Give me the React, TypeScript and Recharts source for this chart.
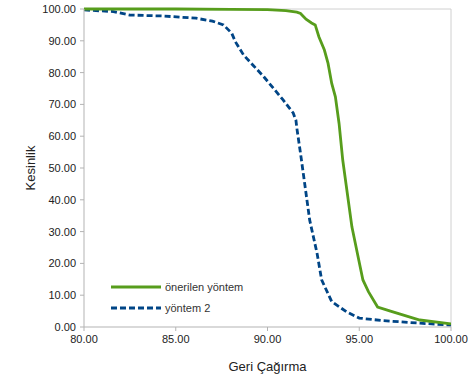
import { LineChart, Line, XAxis, YAxis, Legend, ReferenceLine, Label } from "recharts";

// önerilen yöntem (solid green)
const proposedRecall = [80, 85, 88, 90, 91, 91.6, 91.8, 92.1, 92.4, 92.6, 92.8, 93.1, 93.3, 93.5, 93.7, 93.9, 94.1, 94.3, 94.6, 94.9, 95.2, 95.5, 96.0, 96.7, 98.3, 100];
const proposedPrecision = [100, 100, 99.9, 99.8, 99.5, 99, 98.6, 96.8, 95.6, 95, 91.3, 87.1, 82.9, 76.6, 72.4, 64, 52.5, 44.1, 31.5, 23.1, 14.8, 11.1, 6.3, 5, 2.2, 1.0];

// yöntem 2 (dashed blue)
const method2Recall = [80, 81.6, 82.5, 84.3, 86.1, 87.0, 87.6, 88.05, 88.25, 88.7, 89.2, 89.8, 90.85, 91.4, 91.55, 91.6, 91.8, 92.05, 92.3, 92.7, 92.95, 93.5, 94.3, 95.0, 96.3, 98.3, 100];
const method2Precision = [99.7, 99.2, 98.1, 97.8, 97.1, 96.2, 95, 92.4, 89.7, 85.5, 82.4, 78.7, 71.4, 67.3, 65, 62.5, 54.6, 44.1, 33.6, 23.2, 14.8, 8.0, 4.8, 2.8, 2.0, 1.2, 0.6];

const xTicks = [80, 85, 90, 95, 100];
const yTicks = [0, 10, 20, 30, 40, 50, 60, 70, 80, 90, 100];

const GREEN = "#579d1c";
const BLUE = "#004586";
const AXIS = "#b3b3b3";

const proposedData = proposedRecall.map((r, i) => ({ recall: r, precision: proposedPrecision[i] }));
const method2Data = method2Recall.map((r, i) => ({ recall: r, precision: method2Precision[i] }));

const series = [
  { name: "önerilen yöntem", color: GREEN, dash: undefined as string | undefined },
  { name: "yöntem 2", color: BLUE, dash: "6 3" },
];

function LegendBox() {
  return (
    <div style={{ fontSize: 11, color: "#333" }}>
      {series.map((s) => (
        <div key={s.name} style={{ display: "flex", alignItems: "center", height: 21 }}>
          <svg width={52} height={6}>
            <line x1={0} y1={3} x2={50} y2={3} stroke={s.color} strokeWidth={2.8} strokeDasharray={s.dash} />
          </svg>
          <span style={{ marginLeft: 2 }}>{s.name}</span>
        </div>
      ))}
    </div>
  );
}

export default function App() {
  return (
    <div style={{ position: "absolute", left: 0, top: 0, fontFamily: "'Liberation Sans', Arial, sans-serif" }}>
      <LineChart width={468} height={382} margin={{ top: 9, right: 17, left: 0, bottom: 0 }}>
        <XAxis
          type="number"
          dataKey="recall"
          domain={[80, 100]}
          ticks={xTicks}
          tickFormatter={(v: number) => v.toFixed(2)}
          allowDataOverflow
          height={55}
          tickSize={4}
          tickMargin={4}
          stroke={AXIS}
          tick={{ fill: "#222", fontSize: 11 }}
          interval={0}
        >
          <Label value="Geri Çağırma" position="center" dy={12} style={{ fill: "#222", fontSize: 13 }} />
        </XAxis>
        <YAxis
          type="number"
          domain={[0, 100]}
          ticks={yTicks}
          tickFormatter={(v: number) => v.toFixed(2)}
          width={84}
          tickSize={4}
          tickMargin={4}
          stroke={AXIS}
          tick={{ fill: "#222", fontSize: 11 }}
          interval={0}
        >
          <Label value="Kesinlik" angle={-90} position="center" dx={-12} style={{ fill: "#222", fontSize: 13 }} />
        </YAxis>
        <ReferenceLine y={100} stroke="#d0d0d0" />
        <ReferenceLine x={100} stroke="#d0d0d0" />
        <Legend
          layout="vertical"
          align="center"
          verticalAlign="middle"
          wrapperStyle={{ left: 111, top: 276, width: 160 }}
          content={() => <LegendBox />}
        />
        <Line
          data={method2Data}
          dataKey="precision"
          name="yöntem 2"
          type="linear"
          stroke={BLUE}
          strokeWidth={2.8}
          strokeDasharray="6 3"
          dot={false}
          isAnimationActive={false}
        />
        <Line
          data={proposedData}
          dataKey="precision"
          name="önerilen yöntem"
          type="linear"
          stroke={GREEN}
          strokeWidth={2.8}
          dot={false}
          isAnimationActive={false}
        />
      </LineChart>
    </div>
  );
}
